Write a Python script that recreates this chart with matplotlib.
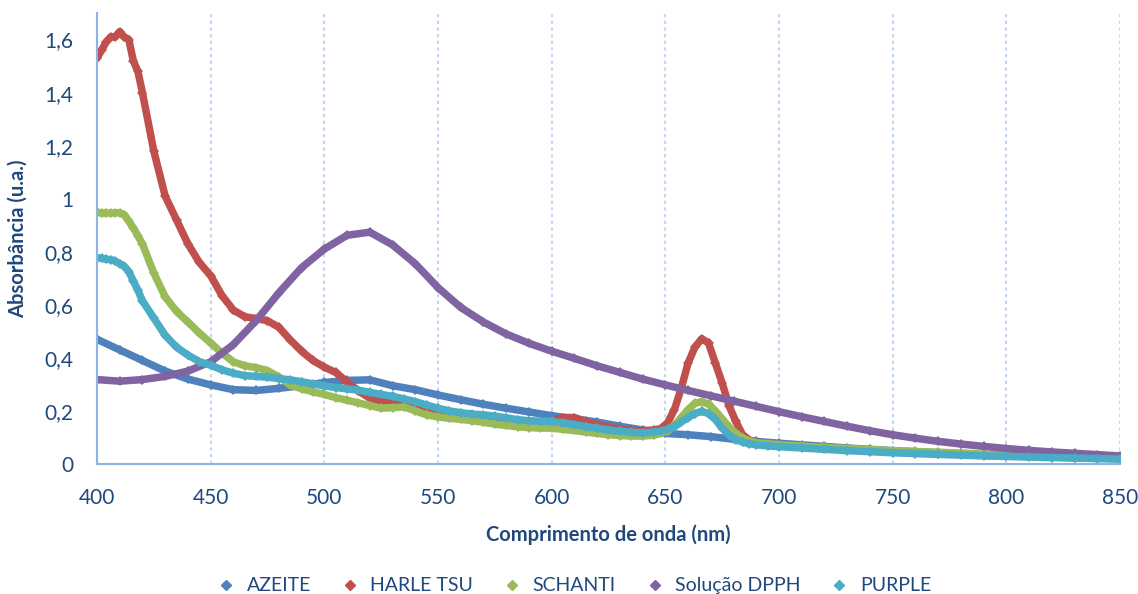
# -*- coding: utf-8 -*-
"""
Absorption spectra of the oil samples and the DPPH solution.
"""

import numpy as np
import matplotlib
matplotlib.use("Agg")
import matplotlib.pyplot as plt
from matplotlib.ticker import FuncFormatter, MultipleLocator

# wavelength grids (nm): a coarse one for the smooth spectra and a finer one
# around the sharp bands
wl_coarse = np.arange(400, 851, 10)
wl_fine = np.concatenate([np.arange(400, 421, 2), np.arange(425, 646, 5),
                          np.arange(648, 691, 3), [695, 700],
                          np.arange(710, 851, 10)])

azeite = [0.47, 0.43, 0.39, 0.35, 0.32, 0.298, 0.28, 0.277, 0.285, 0.295,
          0.307, 0.315, 0.317, 0.295, 0.28, 0.26, 0.242, 0.225, 0.21, 0.196,
          0.182, 0.17, 0.158, 0.142, 0.128, 0.115, 0.11, 0.103, 0.093, 0.085,
          0.078, 0.072, 0.066, 0.060, 0.055, 0.050, 0.046, 0.042, 0.038, 0.035,
          0.032, 0.029, 0.027, 0.025, 0.023, 0.021]

dpph = [0.318, 0.312, 0.318, 0.33, 0.35, 0.385, 0.45, 0.54, 0.645, 0.74,
        0.81, 0.862, 0.874, 0.826, 0.755, 0.665, 0.59, 0.535, 0.49, 0.455,
        0.425, 0.398, 0.37, 0.345, 0.32, 0.298, 0.277, 0.257, 0.237, 0.217,
        0.197, 0.178, 0.16, 0.142, 0.125, 0.11, 0.097, 0.085, 0.075, 0.066,
        0.058, 0.051, 0.045, 0.04, 0.035, 0.03]

harle = [1.53, 1.56, 1.59, 1.61, 1.61, 1.63, 1.61, 1.60, 1.52, 1.48, 1.40,
         1.18, 1.01, 0.92, 0.83, 0.76, 0.71, 0.635, 0.58, 0.555, 0.548,
         0.54, 0.515, 0.468, 0.425, 0.39, 0.365, 0.345, 0.31, 0.275, 0.248,
         0.235, 0.24, 0.232, 0.212, 0.197, 0.19, 0.185, 0.18, 0.175, 0.17,
         0.165, 0.16, 0.157, 0.155, 0.155, 0.16, 0.175, 0.175, 0.16, 0.148,
         0.138, 0.13, 0.126, 0.125, 0.128,
         0.133, 0.155, 0.205, 0.285, 0.38, 0.44, 0.472, 0.456, 0.38, 0.305,
         0.22, 0.16, 0.11, 0.09, 0.082,
         0.076, 0.072,
         0.066, 0.060, 0.055, 0.050, 0.046, 0.042, 0.039, 0.036, 0.033, 0.030,
         0.028, 0.026, 0.024, 0.022, 0.020]

schanti = [0.95, 0.945, 0.947, 0.945, 0.947, 0.947, 0.94, 0.915, 0.89, 0.86, 0.83,
           0.72, 0.63, 0.575, 0.535, 0.494, 0.456, 0.418, 0.385, 0.37, 0.363,
           0.352, 0.328, 0.298, 0.283, 0.272, 0.262, 0.25, 0.24, 0.23, 0.22,
           0.21, 0.212, 0.215, 0.2, 0.185, 0.177, 0.172, 0.168, 0.163, 0.157,
           0.15, 0.145, 0.14, 0.137, 0.135, 0.135, 0.13, 0.126, 0.12, 0.115,
           0.11, 0.107, 0.105, 0.105, 0.108,
           0.115, 0.125, 0.145, 0.175, 0.205, 0.228, 0.235, 0.225, 0.2, 0.17,
           0.14, 0.115, 0.098, 0.087, 0.08,
           0.076, 0.072,
           0.067, 0.062, 0.058, 0.054, 0.050, 0.047, 0.044, 0.041, 0.037, 0.033,
           0.030, 0.027, 0.025, 0.023, 0.021]

purple = [0.778, 0.775, 0.772, 0.77, 0.765, 0.755, 0.745, 0.725, 0.69, 0.655, 0.615,
          0.55, 0.485, 0.44, 0.41, 0.386, 0.372, 0.355, 0.342, 0.333, 0.33,
          0.327, 0.322, 0.317, 0.31, 0.302, 0.294, 0.288, 0.283, 0.278, 0.27,
          0.262, 0.255, 0.245, 0.235, 0.222, 0.21, 0.2, 0.193, 0.188, 0.185,
          0.18, 0.174, 0.167, 0.163, 0.161, 0.16, 0.155, 0.148, 0.141, 0.134,
          0.128, 0.123, 0.119, 0.117, 0.12,
          0.124, 0.13, 0.14, 0.158, 0.175, 0.19, 0.198, 0.19, 0.168, 0.135,
          0.11, 0.092, 0.082, 0.076, 0.072,
          0.068, 0.065,
          0.060, 0.055, 0.050, 0.046, 0.042, 0.039, 0.036, 0.033, 0.030, 0.028,
          0.026, 0.024, 0.022, 0.020, 0.018]

series = [
    ("AZEITE", wl_coarse, azeite, "#4F81BD"),
    ("HARLE TSU", wl_fine, harle, "#C0504D"),
    ("SCHANTI", wl_fine, schanti, "#9BBB59"),
    ("Solução DPPH", wl_coarse, dpph, "#8064A2"),
    ("PURPLE", wl_fine, purple, "#4BACC6"),
]

text_color = "#1F497D"
plt.rcParams['font.family'] = ['Lato', 'DejaVu Sans']

fig = plt.figure(figsize=(11.38, 5.94), dpi=100)
ax = fig.add_axes([0.0852, 0.219, 0.899, 0.759])

for name, x, y, c in series:
    ax.plot(x, y, color=c, lw=5.4, marker="D", ms=5.5, mec=c, mew=0,
            solid_capstyle="round", solid_joinstyle="round", label=name)

ax.set_xlim(400, 850)
ax.set_ylim(0, 1.7)
ax.xaxis.set_major_locator(MultipleLocator(50))
ax.yaxis.set_major_locator(MultipleLocator(0.2))
ax.yaxis.set_major_formatter(FuncFormatter(
    lambda v, p: ("%.1f" % v).rstrip("0").rstrip(".").replace(".", ",")))

ax.grid(axis="x", color="#C6D9F1", linestyle=(0, (1.5, 1.5)), lw=1.6)
ax.set_axisbelow(True)
for s in ["top", "right"]:
    ax.spines[s].set_visible(False)
for s in ["left", "bottom"]:
    ax.spines[s].set_color("#8EB4E3")
    ax.spines[s].set_linewidth(1.5)

ax.tick_params(length=0, labelsize=15, labelcolor=text_color)
ax.tick_params(axis="y", pad=17)
ax.tick_params(axis="x", pad=17)

ax.set_xlabel("Comprimento de onda (nm)", fontsize=14.5, fontweight="bold",
              color=text_color, labelpad=12)
ax.set_ylabel("Absorbância (u.a.)", fontsize=14.5, fontweight="bold",
              color=text_color, labelpad=12)

handles = [plt.Line2D([], [], color=c, marker="D", ls="none", ms=5)
           for _, _, _, c in series]
fig.legend(handles, [s[0] for s in series], loc="lower center",
           bbox_to_anchor=(0.5, -0.03), ncol=5, frameon=False, fontsize=14,
           handletextpad=0.05, columnspacing=1.0, labelcolor=text_color)

fig.savefig("out.png", dpi=100)
